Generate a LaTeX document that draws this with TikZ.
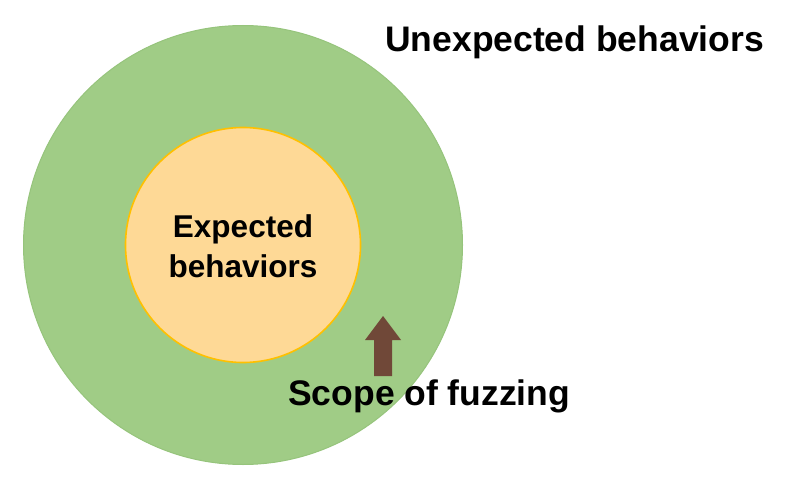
\documentclass[tikz,border=0pt]{standalone}
\usepackage{fontspec}
\setmainfont{Liberation Sans}
\usetikzlibrary{positioning}
\definecolor{ringgreen}{RGB}{160,204,134}
\definecolor{ringedge}{RGB}{150,196,124}
\definecolor{coreyellow}{RGB}{254,217,150}
\definecolor{coreedge}{RGB}{255,192,0}
\definecolor{arrowbrown}{RGB}{112,72,56}
\tikzset{
  ring/.style={circle, fill=ringgreen, draw=ringedge, line width=1pt, inner sep=0pt, minimum size=439pt},
  core/.style={circle, fill=coreyellow, draw=coreedge, line width=1.6pt, inner sep=0pt, minimum size=235pt},
  biglabel/.style={font=\bfseries\fontsize{35.5}{40}\selectfont, inner sep=0pt, anchor=base west},
  corelabel/.style={font=\bfseries\fontsize{31.5}{39.5}\selectfont, inner sep=0pt, align=center}
}
\begin{document}
\begin{tikzpicture}[x=1pt, y=-1pt]
\useasboundingbox (0,0) rectangle (789,489);
% Circles
\node[ring] (outer) at (243,245) {};
\node[core] (inner) at (243,245) {};
\node[corelabel] (expected) at (243,246) {Expected\\behaviors};
% Labels
\node[biglabel] (unexpected) at (385,52) {Unexpected behaviors};
\node[biglabel] (scope) at (288,405) {Scope of fuzzing};
% Arrow
\fill[arrowbrown] (374,376) -- (374,340) -- (365,340) -- (383,316) -- (401,340) -- (392,340) -- (392,376) -- cycle;
\end{tikzpicture}
\end{document}
